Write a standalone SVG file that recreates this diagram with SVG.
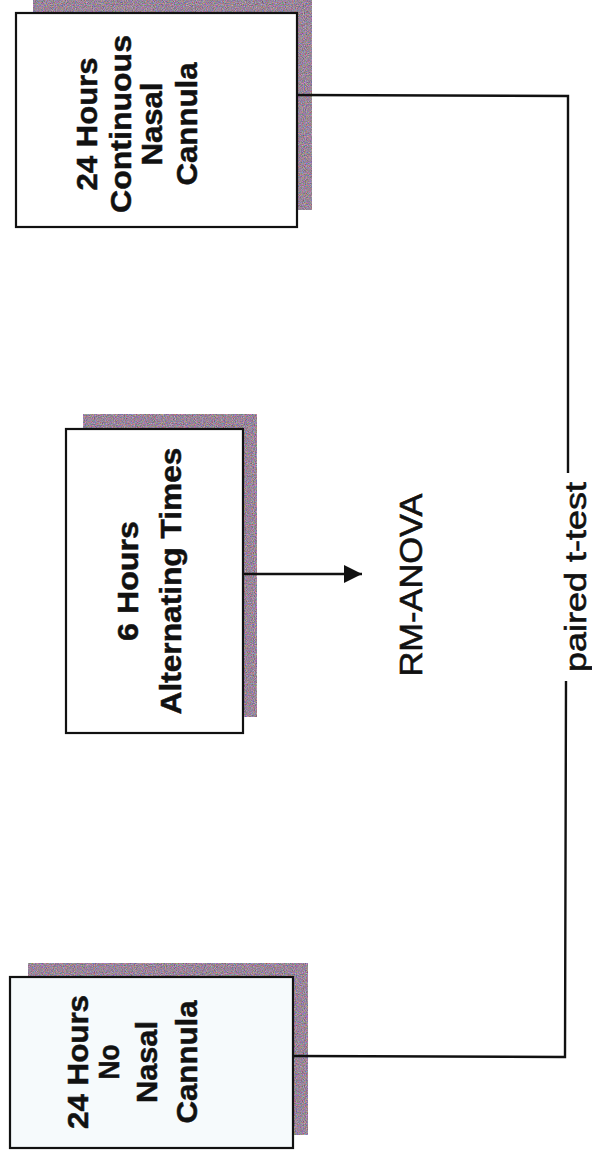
<svg xmlns="http://www.w3.org/2000/svg" width="592" height="1157" viewBox="0 0 592 1157">
  <style>
    .box { fill: #ffffff; stroke: #111111; stroke-width: 2.2; }
    .shadow { fill: #8e8090; filter: url(#grain); }
    .lbl { font-family: "Liberation Sans", Arial, sans-serif; font-size: 30px; font-weight: bold; fill: #111111; stroke: #111111; stroke-width: 0.5; text-anchor: middle; }
    .note { font-family: "Liberation Sans", Arial, sans-serif; font-size: 31px; fill: #111111; stroke: #111111; stroke-width: 0.6; text-anchor: middle; }
    .wire { fill: none; stroke: #111111; stroke-width: 2.4; }
  </style>
  <defs>
    <filter id="grain" x="0" y="0" width="100%" height="100%" color-interpolation-filters="sRGB">
      <feTurbulence type="fractalNoise" baseFrequency="0.9" numOctaves="2" seed="7" result="n"/>
      <feColorMatrix in="n" type="matrix" values="0.8 0 0 0 0.2  0 0.6 0 0 0.22  0 0 0.8 0 0.2  0 0 0 0 1" result="c"/>
      <feComposite in="c" in2="SourceGraphic" operator="in"/>
    </filter>
    <marker id="head" viewBox="0 0 10 10" refX="10" refY="5" markerWidth="7.5" markerHeight="7.5" markerUnits="strokeWidth" orient="auto">
      <path d="M0,0 L10,5 L0,10 Z" fill="#111111"/>
    </marker>
  </defs>

  <rect width="592" height="1157" fill="#ffffff"/>

  <!-- 24 h continuous nasal cannula -->
  <g id="node-continuous">
    <rect class="shadow" x="33" y="-4" width="279" height="214"/>
    <rect class="box" x="16" y="13" width="281" height="214"/>
    <text class="lbl" transform="translate(97,124) rotate(-90)" textLength="133" lengthAdjust="spacingAndGlyphs">24 Hours</text>
    <text class="lbl" transform="translate(131,124) rotate(-90)" textLength="178" lengthAdjust="spacingAndGlyphs">Continuous</text>
    <text class="lbl" transform="translate(162,124) rotate(-90)" textLength="83" lengthAdjust="spacingAndGlyphs">Nasal</text>
    <text class="lbl" transform="translate(197,124) rotate(-90)" textLength="123" lengthAdjust="spacingAndGlyphs">Cannula</text>
  </g>

  <!-- 6 h alternating -->
  <g id="node-alternating">
    <rect class="shadow" x="83" y="414" width="174" height="303"/>
    <rect class="box" x="66" y="429" width="177" height="304"/>
    <text class="lbl" transform="translate(138,581) rotate(-90)" textLength="120" lengthAdjust="spacingAndGlyphs">6 Hours</text>
    <text class="lbl" transform="translate(181,581) rotate(-90)" textLength="267" lengthAdjust="spacingAndGlyphs">Alternating Times</text>
  </g>

  <!-- 24 h no nasal cannula -->
  <g id="node-none">
    <rect class="shadow" x="28" y="963" width="280" height="172"/>
    <rect class="box" x="10" y="977" width="283" height="171" style="fill:#f6fafc"/>
    <text class="lbl" transform="translate(88,1062) rotate(-90)" textLength="134" lengthAdjust="spacingAndGlyphs">24 Hours</text>
    <text class="lbl" transform="translate(119,1062) rotate(-90)" textLength="35" lengthAdjust="spacingAndGlyphs">No</text>
    <text class="lbl" transform="translate(157,1062) rotate(-90)" textLength="82" lengthAdjust="spacingAndGlyphs">Nasal</text>
    <text class="lbl" transform="translate(197,1062) rotate(-90)" textLength="123" lengthAdjust="spacingAndGlyphs">Cannula</text>
  </g>

  <!-- analysis labels -->
  <g id="label-anova">
    <text class="note" transform="translate(422,585) rotate(-90)" textLength="183" lengthAdjust="spacingAndGlyphs">RM-ANOVA</text>
  </g>
  <g id="label-ttest">
    <text class="note" style="font-size:29px" transform="translate(586,577) rotate(-90)" textLength="190" lengthAdjust="spacingAndGlyphs">paired t-test</text>
  </g>

  <!-- connectors -->
  <g id="connectors">
    <polyline class="wire" points="297,95 568,96 568,473"/>
    <polyline class="wire" points="566,681 565,1057 294,1056"/>
    <line class="wire" x1="243" y1="574" x2="362" y2="574" marker-end="url(#head)"/>
  </g>
</svg>
